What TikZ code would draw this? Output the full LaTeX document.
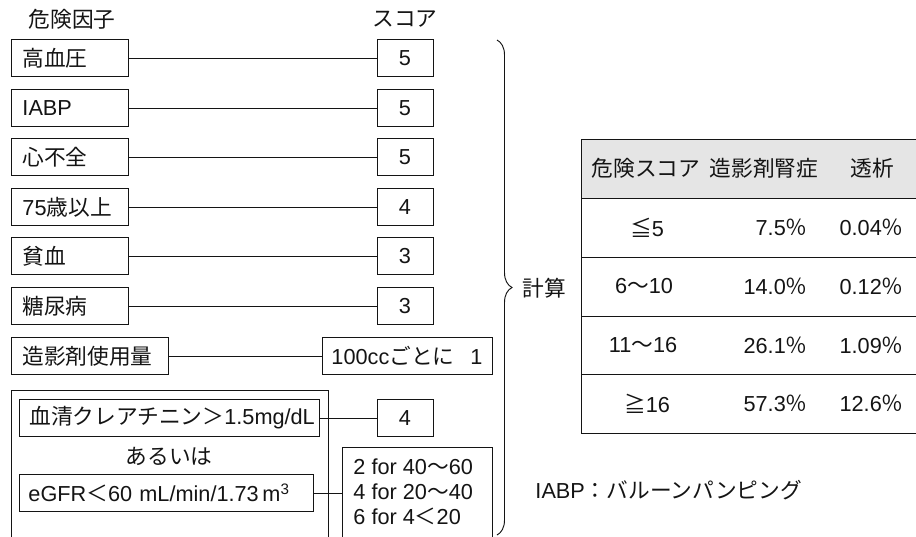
\documentclass[tikz,border=0pt]{standalone}
\usepackage{fontspec}
\setmainfont{Liberation Sans}
\newfontfamily\jp{Noto Sans CJK JP}
\newcommand\J[1]{{\jp #1}}
\usetikzlibrary{decorations.pathreplacing}
\begin{document}
\begin{tikzpicture}[x=1pt,y=-1pt, font=\fontsize{21.7pt}{25pt}\selectfont,
  color=black!92, line width=0.95pt,
  box/.style={draw, inner ysep=0pt, minimum height=37pt},
  lbox/.style={box, anchor=west, align=left, inner xsep=11pt, text width=#1},
  sbox/.style={box, inner xsep=0pt, minimum width=56pt},
  plain/.style={inner sep=0pt},
  conn/.style={draw, line width=0.95pt}]
\useasboundingbox (0,0) rectangle (916,536);
\clip (0,0) rectangle (916,536);

% headers
\node[plain] (hf) at (72,19) {\J{危険因子}};
\node[plain] (hs) at (405,19) {\J{スコア}};

% factor rows
\node[lbox=95pt] (r1) at (11,58) {\mbox{\J{高血圧}}};
\node[sbox] (s1) at (405,58) {5};
\node[lbox=95pt] (r2) at (11,108) {\mbox{IABP}};
\node[sbox] (s2) at (405,108) {5};
\node[lbox=95pt] (r3) at (11,157) {\mbox{\J{心不全}}};
\node[sbox] (s3) at (405,157) {5};
\node[lbox=95pt] (r4) at (11,207) {\mbox{75\J{歳以上}}};
\node[sbox] (s4) at (405,207) {4};
\node[lbox=95pt] (r5) at (11,256) {\mbox{\J{貧血}}};
\node[sbox] (s5) at (405,256) {3};
\node[lbox=95pt] (r6) at (11,306) {\mbox{\J{糖尿病}}};
\node[sbox] (s6) at (405,306) {3};
\foreach \i in {1,...,6} \draw[conn] (r\i) -- (s\i);

\node[lbox=135pt] (r7) at (11,356) {\mbox{\J{造影剤使用量}}};
\node[box, minimum width=170pt] (s7) at (407,356) {\mbox{100cc\J{ごとに}\hspace{16pt}1}};
\draw[conn] (r7) -- (s7);

% kidney function group
\node[draw, inner sep=0pt, anchor=north west, minimum width=317pt, minimum height=170pt] (big) at (11,390) {};
\node[lbox=280pt, inner xsep=10pt] (cr) at (19,418) {\mbox{\J{血清クレアチニン＞}1.5mg/dL}};
\node[sbox] (s8) at (405,418) {4};
\draw[conn] (cr) -- (s8);
\node[plain] (or) at (169,456) {\J{あるいは}};
\node[lbox=276pt, inner xsep=9pt] (eg) at (19,493) {\mbox{eGFR\J{＜}60 mL/min/1.73\,m\textsuperscript{3}}};
\node[draw, inner sep=0pt, anchor=north west, minimum width=150pt, minimum height=120pt] (tfb) at (342,447) {};
\node[plain, align=left, anchor=west] (tft) at (353,492) {2 for 40\J{〜}60\\4 for 20\J{〜}40\\6 for 4\J{＜}20};
\draw[conn] (eg.east) -- (eg.east -| tfb.west);

% brace
\draw[line width=0.95pt, decorate, decoration={brace, amplitude=15pt}] (497,40) -- (497,535);
\node[plain] (calc) at (544,288) {\J{計算}};

% table
\fill[black!10] (581,139) rectangle (916,198);
\foreach \yy in {139,198,257,316,374,433} \draw[line width=0.95pt] (581,\yy) -- (916,\yy);
\draw[line width=0.95pt] (581,139) -- (581,433);
\node[plain] (th1) at (646,168.5) {\J{危険スコア}};
\node[plain] (th2) at (764,168.5) {\J{造影剤腎症}};
\node[plain] (th3) at (872,168.5) {\J{透析}};
\node[plain] (a1) at (647,227.5) {\J{≦}5};
\node[plain, anchor=east] (b1) at (808,227.5) {7.5\J{％}};
\node[plain, anchor=east] (c1) at (904,227.5) {0.04\J{％}};
\node[plain] (a2) at (644,286.5) {6\J{〜}10};
\node[plain, anchor=east] (b2) at (808,286.5) {14.0\J{％}};
\node[plain, anchor=east] (c2) at (904,286.5) {0.12\J{％}};
\node[plain] (a3) at (643,345) {11\J{〜}16};
\node[plain, anchor=east] (b3) at (808,345) {26.1\J{％}};
\node[plain, anchor=east] (c3) at (904,345) {1.09\J{％}};
\node[plain] (a4) at (647,403.5) {\J{≧}16};
\node[plain, anchor=east] (b4) at (808,403.5) {57.3\J{％}};
\node[plain, anchor=east] (c4) at (904,403.5) {12.6\J{％}};

% footnote
\node[plain, anchor=west] (note) at (535,490) {IABP\J{：バルーンパンピング}};
\end{tikzpicture}
\end{document}
